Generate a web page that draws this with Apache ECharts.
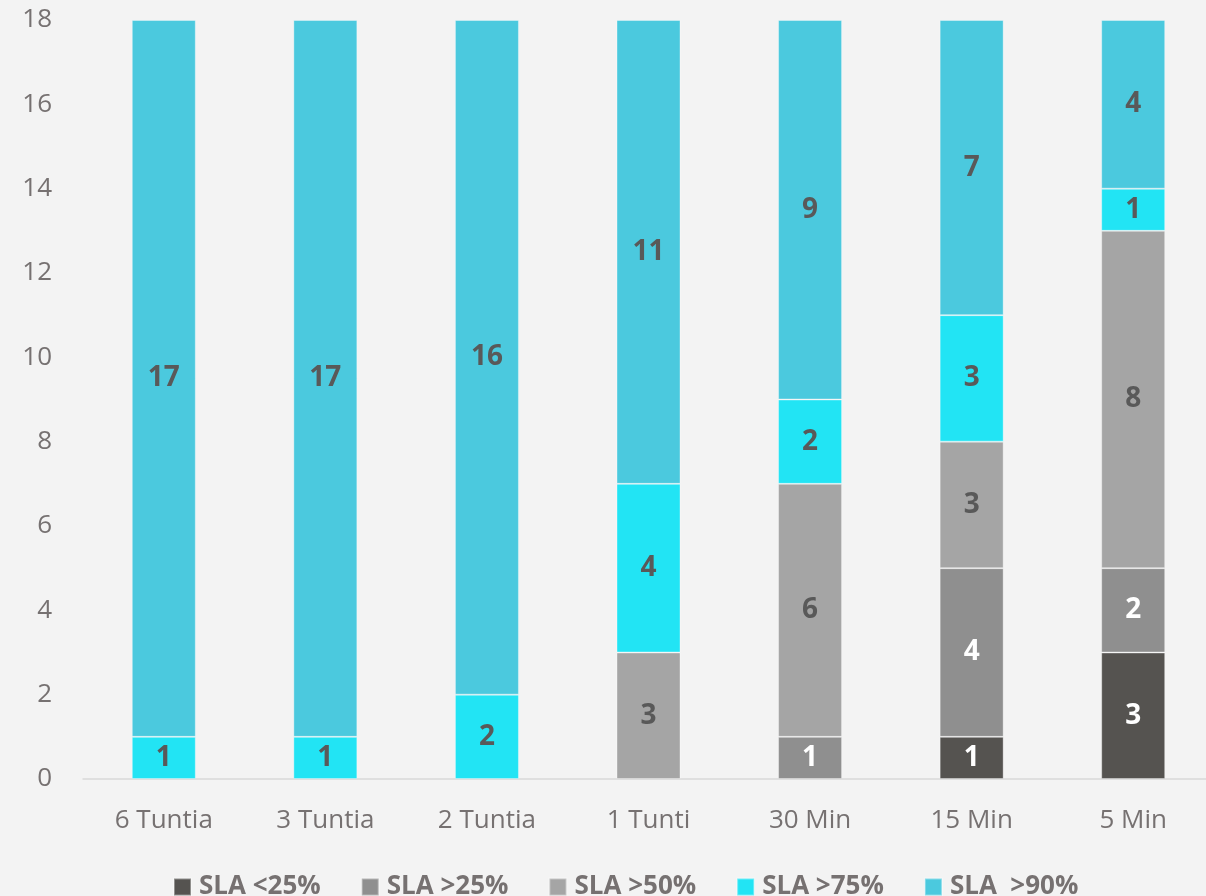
<!DOCTYPE html>
<html><head><meta charset="utf-8">
<script src="https://cdn.jsdelivr.net/npm/echarts@6/dist/echarts.min.js"></script>
<style>html,body{margin:0;padding:0;background:#f3f3f3;overflow:hidden;}#c{width:1214px;height:896px;}</style>
</head><body><div id="c"></div>
<script>
const categories = ['6 Tuntia','3 Tuntia','2 Tuntia','1 Tunti','30 Min','15 Min','5 Min'];
const seriesNames = ['SLA <25%','SLA >25%','SLA >50%','SLA >75%','SLA  >90%'];
const sla25lt = [null,null,null,null,null,1,3];
const sla25 = [null,null,null,null,1,4,2];
const sla50 = [null,null,null,3,6,3,8];
const sla75 = [1,1,2,4,2,3,1];
const sla90 = [17,17,16,11,9,7,4];
const yTicks = {min:0,max:18,interval:2};

const colors = ['#555350','#8f8f8f','#a5a5a5','#22e4f4','#4bc9de'];
const labelColors = ['#ffffff','#ffffff','#595959','#595959','#595959'];
const datas = [sla25lt, sla25, sla50, sla75, sla90];
const font = '"Open Sans", "Noto Sans", sans-serif';

const chart = echarts.init(document.getElementById('c'), null, {renderer:'canvas'});
chart.setOption({
  backgroundColor:'#f3f3f3',
  animation:false,
  grid:{left:83,right:0,top:20,bottom:117,containLabel:false},
  legend:{
    top:869, left:168, itemWidth:17, itemHeight:17, itemGap:40,
    icon:'rect',
    textStyle:{color:'#767171',fontSize:26,fontWeight:'bold',fontFamily:font,padding:[0,0,0,3]},
    data:seriesNames
  },
  xAxis:{
    type:'category', data:categories,
    axisLine:{lineStyle:{color:'#d9d9d9',width:1.5}},
    axisTick:{show:false},
    axisLabel:{color:'#767171',fontSize:26,fontFamily:font,margin:29}
  },
  yAxis:{
    type:'value', min:yTicks.min, max:yTicks.max, interval:yTicks.interval,
    splitLine:{show:false},
    axisLine:{show:false}, axisTick:{show:false},
    axisLabel:{color:'#767171',fontSize:26,fontFamily:font,margin:31}
  },
  series: datas.map((d,i)=>({
    name:seriesNames[i], type:'bar', stack:'s', data:d,
    barWidth:64,
    itemStyle:{color:colors[i], borderColor:'rgba(255,255,255,0.35)', borderWidth:1},
    label:{show:true, position:'inside', color:labelColors[i], fontSize:28, fontWeight:'bold', fontFamily:font}
  }))
});
</script></body></html>
